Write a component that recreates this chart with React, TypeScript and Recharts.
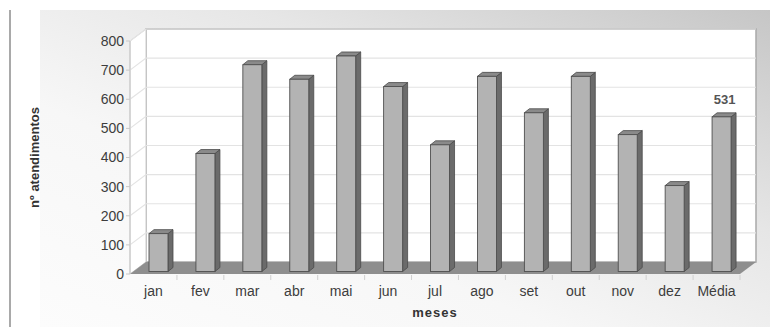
import { BarChart, Bar, XAxis, YAxis, ReferenceArea, LabelList } from "recharts";

// dados
const meses = ["jan", "fev", "mar", "abr", "mai", "jun", "jul", "ago", "set", "out", "nov", "dez", "Média"];
const atendimentos = [130, 405, 710, 660, 740, 635, 435, 670, 545, 670, 470, 295, 531];
const rotulos = [null, null, null, null, null, null, null, null, null, null, null, null, "531"];
const yTicks = [0, 100, 200, 300, 400, 500, 600, 700, 800];

const data = meses.map((mes, i) => ({ mes, valor: atendimentos[i], rotulo: rotulos[i] }));

const FONT = "Arial, 'Liberation Sans', sans-serif";
// profundidade do "3D"
const WALL_DX = 16;
const WALL_DY = 12;
const BAR_OFF_X = 5;
const BAR_OFF_Y = 2.5;
const BAR_DX = 5;
const BAR_DY = 4;

function Walls(props: any) {
  const { x, y, width, height } = props;
  const b = y + height;
  const step = width / meses.length;
  return (
    <g>
      <rect x={x + WALL_DX} y={y - WALL_DY} width={width} height={height} fill="#fff" stroke="#a9a9a9" strokeWidth={1.5} />
      <polygon
        points={`${x},${y} ${x + WALL_DX},${y - WALL_DY} ${x + WALL_DX},${b - WALL_DY} ${x},${b}`}
        fill="#fff"
        stroke="#cccccc"
      />
      {yTicks
        .filter((t) => t > 0)
        .map((t) => {
          const ty = b - (t / 800) * height;
          return (
            <polyline
              key={t}
              points={`${x},${ty} ${x + WALL_DX},${ty - WALL_DY} ${x + width + WALL_DX},${ty - WALL_DY}`}
              fill="none"
              stroke="#e3e3e3"
              strokeWidth={1.2}
            />
          );
        })}
      <polygon
        points={`${x},${b} ${x + WALL_DX},${b - WALL_DY} ${x + width + WALL_DX},${b - WALL_DY} ${x + width},${b}`}
        fill="#8e8e8e"
      />
      {meses.map((m, i) => (
        <line key={m} x1={x + (i + 1) * step} y1={b + 1} x2={x + (i + 1) * step} y2={b + 6} stroke="#d0d0d0" />
      ))}
    </g>
  );
}

function Bar3D(props: any) {
  const { x, y, width, height } = props;
  if (!height) return null;
  const fx = x + BAR_OFF_X;
  const fy = y - BAR_OFF_Y;
  const w = width;
  const h = height;
  return (
    <g>
      <polygon
        points={`${fx + w},${fy} ${fx + w + BAR_DX},${fy - BAR_DY} ${fx + w + BAR_DX},${fy + h - BAR_DY} ${fx + w},${fy + h}`}
        fill="#6b6b6b"
        stroke="#4a4a4a"
        strokeWidth={0.8}
      />
      <polygon
        points={`${fx},${fy} ${fx + BAR_DX},${fy - BAR_DY} ${fx + w + BAR_DX},${fy - BAR_DY} ${fx + w},${fy}`}
        fill="#8a8a8a"
        stroke="#4a4a4a"
        strokeWidth={0.8}
      />
      <rect x={fx} y={fy} width={w} height={h} fill="#b3b3b3" stroke="#4f4f4f" strokeWidth={0.9} />
    </g>
  );
}

function MediaLabel(props: any) {
  const { x, y, width, value } = props;
  if (!value) return null;
  return (
    <text x={x + width / 2 + 8} y={y - 15} textAnchor="middle" fontFamily={FONT} fontSize={13} fontWeight="bold" fill="#555">
      {value}
    </text>
  );
}

export default function App() {
  return (
    <div style={{ position: "absolute", left: 0, top: 0, width: 770, height: 327, background: "#fff", overflow: "hidden" }}>
      <div
        style={{
          position: "absolute",
          left: 40,
          top: 10,
          right: 0,
          bottom: 0,
          background: "linear-gradient(to bottom left, #c6c6c6 0%, #e6e6e6 35%, #f7f7f7 65%, #fcfcfc 100%)",
        }}
      />
      <div style={{ position: "absolute", left: 9, top: 10, width: 2, bottom: 0, background: "#a9a9a9" }} />
      <div style={{ position: "absolute", left: 0, top: 0 }}>
        <BarChart width={770} height={327} data={data} margin={{ top: 41, right: 30, bottom: 8, left: 20 }} barSize={19}>
          <ReferenceArea y1={0} y2={800} ifOverflow="visible" shape={<Walls />} />
          <XAxis
            dataKey="mes"
            axisLine={false}
            tickLine={false}
            height={45}
            tickMargin={6}
            tick={{ fontFamily: FONT, fontSize: 14, fill: "#3d3d3d" }}
            label={{
              value: "meses",
              position: "insideBottom",
              offset: 2,
              style: { fontFamily: FONT, fontSize: 13, fontWeight: "bold", fill: "#333", letterSpacing: 1 },
            }}
          />
          <YAxis
            width={110}
            domain={[0, 800]}
            ticks={yTicks}
            axisLine={{ stroke: "#c8c8c8" }}
            tickLine={{ stroke: "#c8c8c8" }}
            tickSize={4}
            tickMargin={2}
            tick={{ fontFamily: FONT, fontSize: 14, fill: "#3d3d3d" }}
            label={{
              value: "nº atendimentos",
              angle: -90,
              position: "insideLeft",
              offset: 14,
              style: { textAnchor: "middle", fontFamily: FONT, fontSize: 13, fontWeight: "bold", fill: "#333" },
            }}
          />
          <Bar dataKey="valor" shape={<Bar3D />} isAnimationActive={false}>
            <LabelList dataKey="rotulo" content={<MediaLabel />} />
          </Bar>
        </BarChart>
      </div>
    </div>
  );
}
